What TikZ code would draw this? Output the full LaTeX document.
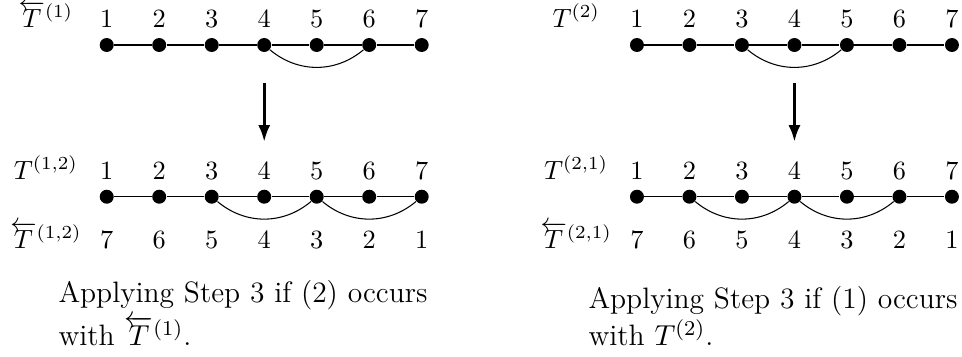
\documentclass[tikz,border=0pt]{standalone}
\usepackage{amsmath}
\usepackage{tikz}
\usetikzlibrary{arrows.meta, positioning}

% reversed tree: left arrow set closely over the letter
\makeatletter
\newcommand{\rev}[1]{\mathord{\smash[t]{\vbox{\ialign{##\crcr
  \leftarrowfill@\textstyle\crcr
  \noalign{\nointerlineskip\kern-1.2pt}
  $\m@th\hfil\textstyle#1\hfil$\crcr}}}}}
\makeatother

\begin{document}
\begin{tikzpicture}[
  vertex/.style={circle, fill=black, inner sep=0pt, minimum size=5.3pt},
  num/.style={anchor=base, inner sep=0pt},
  tree/.style={anchor=base, inner sep=0pt},
  hop/.style={bend right=40},
  arrow/.style={-{Latex[length=6.4pt,width=4.6pt]}, very thick},
  note/.style={
    anchor=base west,
    inner sep=0pt,
    text width=5.1cm,
    align=left,
    font=\fontsize{11.2}{#1}\selectfont
  }
]
  \useasboundingbox (0,0) rectangle (12.827,-4.747);

  % vertices and their numbers
  \foreach \i [evaluate=\i as \r using int(8-\i)] in {1,...,7} {
    \node[vertex] (a\i) at ({1.423+0.7*(\i-1)},-0.6) {};
    \node[num] (na\i) at ({1.423+0.7*(\i-1)},-0.367) {\i};
    \node[vertex] (c\i) at ({1.423+0.7*(\i-1)},-2.623) {};
    \node[num] (nc\i) at ({1.423+0.7*(\i-1)},-2.391) {\i};
    \node[num] (rc\i) at ({1.423+0.7*(\i-1)},-3.311) {\r};
    \node[vertex] (b\i) at ({8.493+0.7*(\i-1)},-0.6) {};
    \node[num] (nb\i) at ({8.493+0.7*(\i-1)},-0.367) {\i};
    \node[vertex] (d\i) at ({8.493+0.7*(\i-1)},-2.623) {};
    \node[num] (nd\i) at ({8.493+0.7*(\i-1)},-2.391) {\i};
    \node[num] (rd\i) at ({8.493+0.7*(\i-1)},-3.311) {\r};
  }
  \foreach \i [count=\j from 2] in {1,...,6} {
    \draw (a\i) -- (a\j);
    \draw (c\i) -- (c\j);
    \draw (b\i) -- (b\j);
    \draw (d\i) -- (d\j);
  }

  \draw (a4) to[hop] (a6);
  \draw (c3) to[hop] (c5);
  \draw (c5) to[hop] (c7);
  \draw (b3) to[hop] (b5);
  \draw (d2) to[hop] (d4);
  \draw (d4) to[hop] (d6);

  \coordinate (topL) at (3.523,-1.107);
  \coordinate (botL) at (3.523,-1.893);
  \coordinate (topR) at (10.593,-1.107);
  \coordinate (botR) at (10.593,-1.893);
  \draw[arrow] (topL) -- (botL);
  \draw[arrow] (topR) -- (botR);

  \node[tree] (la) at (0.613,-0.367) {$\rev{T}^{(1)}$};
  \node[tree] (lc) at (0.613,-2.391) {$T^{(1,2)}$};
  \node[tree] (lcr) at (0.613,-3.311) {$\rev{T}^{(1,2)}$};
  \node[tree] (lb) at (7.683,-0.367) {$T^{(2)}$};
  \node[tree] (ld) at (7.683,-2.391) {$T^{(2,1)}$};
  \node[tree] (ldr) at (7.683,-3.311) {$\rev{T}^{(2,1)}$};

  \node[note=16.3pt] (capL) at (0.773,-4.04)
  {Applying Step 3 if (2) occurs with $\rev{T}^{(1)}$.};
  \node[note=14pt] (capR) at (7.84,-4.12)
  {Applying Step 3 if (1) occurs with $T^{(2)}$.};
\end{tikzpicture}
\end{document}
